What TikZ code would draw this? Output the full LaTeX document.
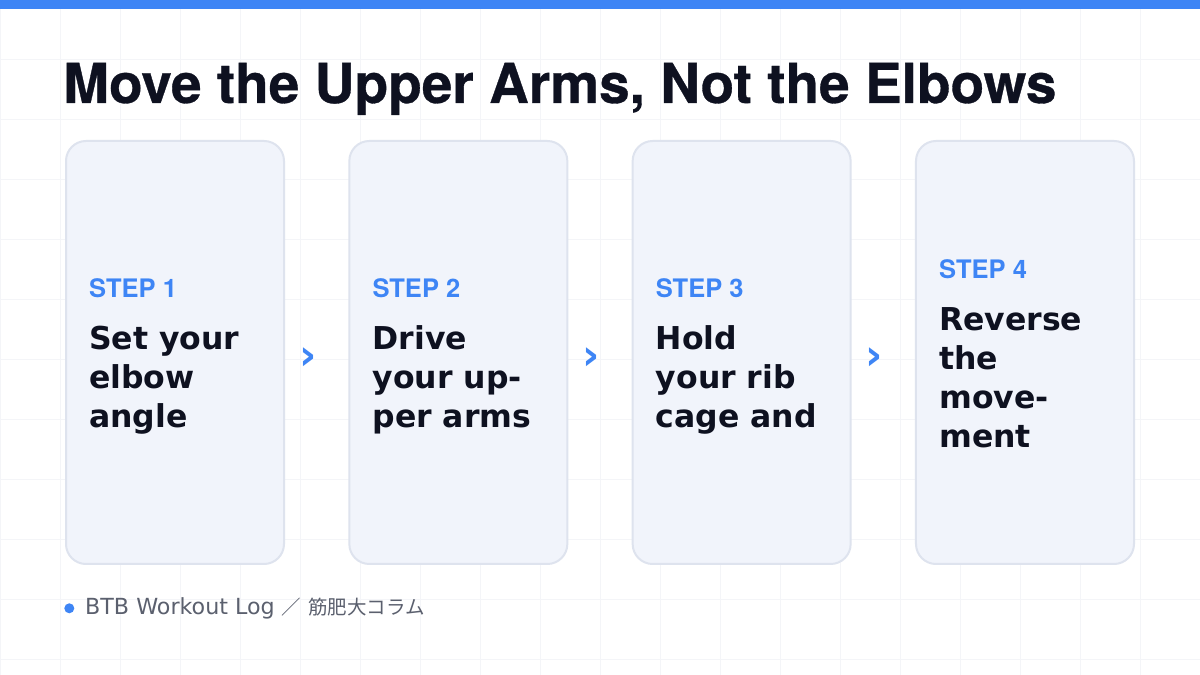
\documentclass[tikz,border=0pt]{standalone}
\usepackage{fontspec}
\setmainfont{TeX Gyre Heros}
\newfontfamily\bodyfont{DejaVu Sans}
\newfontfamily\jpfont{Noto Sans CJK JP}
\usetikzlibrary{calc, positioning}
\definecolor{btbblue}{HTML}{3E85F5}
\definecolor{btbink}{HTML}{0E1120}
\definecolor{btbcard}{HTML}{F1F4FB}
\definecolor{btbedge}{HTML}{DEE3EE}
\definecolor{btbgrid}{HTML}{F4F5F8}
\definecolor{btbgrey}{HTML}{5B606E}
\tikzset{card/.style={draw=btbedge, line width=2pt, fill=btbcard, rounded corners=20pt, minimum width=218pt, minimum height=423pt, inner sep=0pt, outer sep=0pt}}
\tikzset{steplabel/.style={inner sep=0pt, text=btbblue, font=\fontsize{25.5}{29}\selectfont\bfseries}}
\tikzset{stepline/.style={inner sep=0pt, text=btbink, font=\bodyfont\fontsize{31.5}{39}\selectfont\bfseries}}
\tikzset{chevron/.style={inner sep=0pt, text=btbblue, font=\bodyfont\fontsize{42}{42}\selectfont\bfseries}}
\tikzset{gridline/.style={draw=btbgrid, line width=1pt}}

\begin{document}
\begin{tikzpicture}[x=1pt, y=1pt]
    \useasboundingbox (0,0) rectangle (1200,675);
    \fill[white] (0,0) rectangle (1200,675);
    \begin{scope}[yshift=15pt]
        \draw[gridline, step=60] (0,-15) grid (1200,660);
    \end{scope}
    \fill[btbblue] (0,665.7) rectangle (1200,675);

    \node[anchor=base west, inner sep=0pt, text=btbink, font=\fontsize{55}{60}\selectfont\bfseries\addfontfeature{FakeBold=0.6}] (title) at (63,572) {Move the Upper Arms, Not the Elbows};

    % the four cards
    \node[card] (step1) at (175,322.5) {};
    \node[card, right=65.33pt of step1] (step2) {};
    \node[card, right=65.33pt of step2] (step3) {};
    \node[card, right=65.33pt of step3] (step4) {};

    \foreach \k/\n/\body in {1/3/{Set your,elbow,angle}, 2/3/{Drive,your up-,per arms}, 3/3/{Hold,your rib,cage and}, 4/4/{Reverse,the,move-,ment}}{
        \node[steplabel, anchor=base west] (lab\k) at ($(step\k.north west)+(23,{-157+(\n-3)*19.5})$) {STEP \k};
        \foreach \t [count=\i] in \body
            \node[stepline, anchor=base west] (txt\k\i) at ($(lab\k.base west)+(0,{-52-39*(\i-1)})$) {\t};
    }

    \foreach \a/\b in {1/2, 2/3, 3/4}
        \node[chevron] (arr\a) at ($(step\a.east)!0.5!(step\b.west)+(-9,-6)$) {›};

    % footer
    \node[circle, fill=btbblue, minimum size=10pt, inner sep=0pt] (dot) at (69.3,66.7) {};
    \node[anchor=base west, inner sep=0pt, text=btbgrey, font=\bodyfont\fontsize{22.2}{26}\selectfont] (foot) at (85,60) {BTB Workout Log {\jpfont\fontsize{19.5}{24}\selectfont ／} {\jpfont\fontsize{19.5}{24}\selectfont 筋肥大コラム}};
\end{tikzpicture}
\end{document}
